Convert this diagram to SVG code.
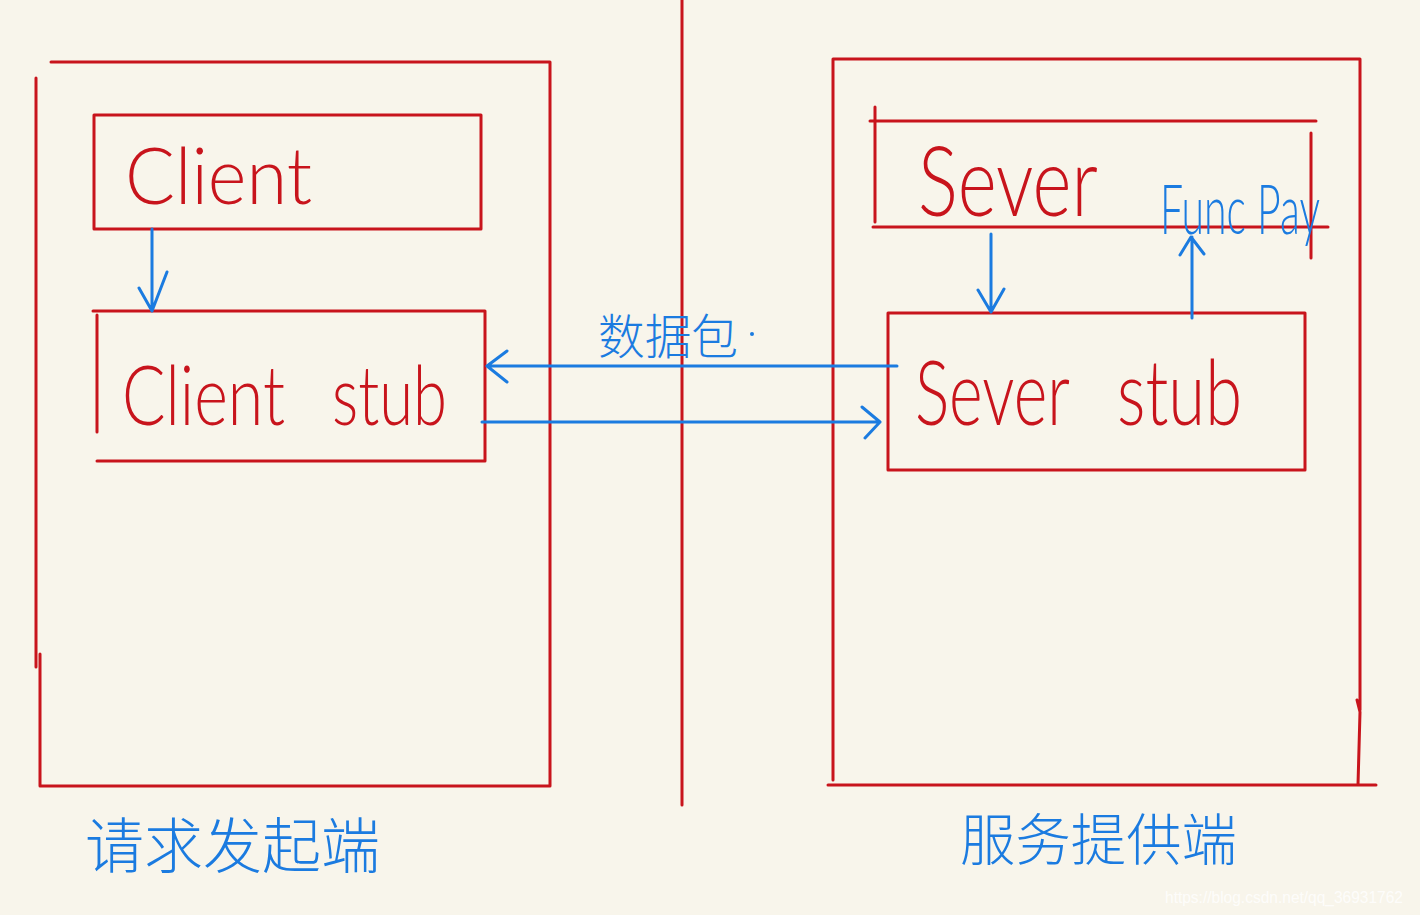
<svg xmlns="http://www.w3.org/2000/svg" width="1420" height="915" viewBox="0 0 1420 915">
<style>
.r{fill:none;stroke:#c8141c;stroke-width:3;stroke-linecap:round;stroke-linejoin:round}
.b{fill:none;stroke:#1b7be0;stroke-width:3;stroke-linecap:round;stroke-linejoin:round}
.tr{fill:#c8141c;font-family:Lato,"Liberation Sans",sans-serif;font-weight:300}
.tb{fill:#1b7be0;font-family:Lato,"Liberation Sans",sans-serif;font-weight:300}
.cj{fill:#1b7be0;font-family:"Liberation Sans","Noto Sans CJK SC",sans-serif;font-weight:300}
</style>
<rect width="1420" height="915" fill="#f8f5eb"/>
<g id="divider"><line class="r" x1="682" y1="0" x2="682" y2="805"/></g>
<g id="client-side">
<path class="r" d="M51 62 H550 V690 M550 675 V786 H40 V654 M36 78 V667"/>
<text class="cj" x="85" y="868" font-size="60" textLength="295" lengthAdjust="spacingAndGlyphs">请求发起端</text>
</g>
<g id="client">
<rect class="r" x="94" y="115" width="387" height="114"/>
<text class="tr" x="125" y="204" font-size="78" textLength="187" lengthAdjust="spacingAndGlyphs">Client</text>
</g>
<g id="client-stub">
<path class="r" d="M93 311 H485 V461 H97 M97 315 V432"/>
<text class="tr" x="122" y="425" font-size="82" textLength="163" lengthAdjust="spacingAndGlyphs">Client</text>
<text class="tr" x="332" y="425" font-size="82" textLength="115" lengthAdjust="spacingAndGlyphs">stub</text>
</g>
<g id="server-side">
<path class="r" d="M833 780 V59 H1360 V710 M1357 700 L1360 712 L1358 785 M828 785 H1376"/>
<text class="cj" x="960" y="860" font-size="56" textLength="277" lengthAdjust="spacingAndGlyphs">服务提供端</text>
</g>
<g id="sever">
<path class="r" d="M870 121 H1316 M875 107 V222 M1311 133 V258 M873 227 H1328"/>
<text class="tr" x="918" y="216" font-size="96" textLength="180" lengthAdjust="spacingAndGlyphs">Sever</text>
</g>
<g id="sever-stub">
<rect class="r" x="888" y="313" width="417" height="157"/>
<text class="tr" x="915" y="425" font-size="90" textLength="155" lengthAdjust="spacingAndGlyphs">Sever</text>
<text class="tr" x="1117" y="425" font-size="90" textLength="125" lengthAdjust="spacingAndGlyphs">stub</text>
</g>
<g id="funcpay">
<text class="tb" x="1160" y="234" font-size="68" textLength="160" lengthAdjust="spacingAndGlyphs">Func Pay</text>
</g>
<g id="connectors">
<path class="b" d="M152 229 V311 M139 288 L152 311 L167 272"/>
<path class="b" d="M897 366 H487 M507 351 L487 366 L507 382"/>
<path class="b" d="M482 422 H880 M862 407 L880 422 L865 438"/>
<path class="b" d="M991 234 V312 M978 290 L991 312 L1004 289"/>
<path class="b" d="M1192 318 V237 M1180 255 L1191 237 L1204 254"/>
<text class="cj" x="598" y="354" font-size="48" textLength="140" lengthAdjust="spacingAndGlyphs">数据包</text>
<circle cx="752" cy="334" r="2" fill="#1b7be0"/>
</g>
<text x="1165" y="903" font-family="Liberation Sans,sans-serif" font-size="16" fill="#ffffff" fill-opacity="0.8" textLength="238" lengthAdjust="spacingAndGlyphs">https://blog.csdn.net/qq_36931762</text>
</svg>
